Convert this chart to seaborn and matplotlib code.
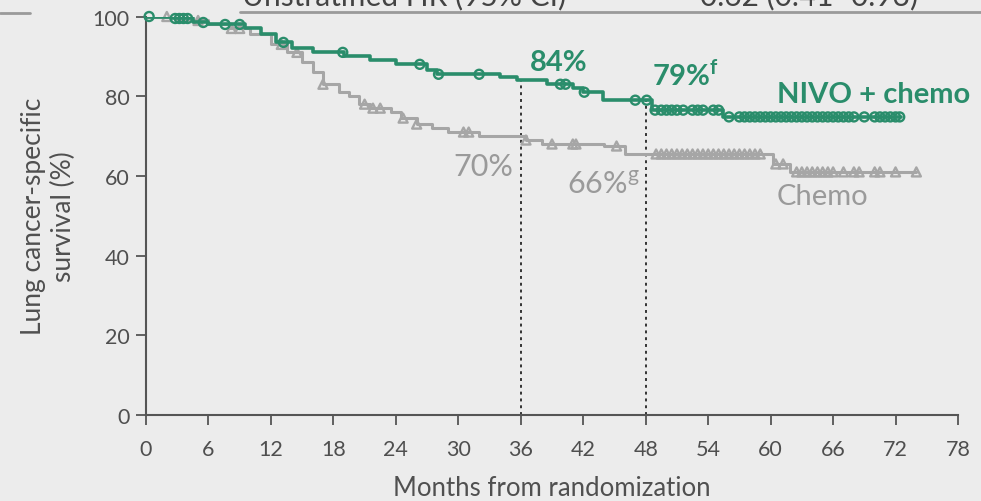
import numpy as np
import pandas as pd
import matplotlib
matplotlib.use("Agg")
import matplotlib.pyplot as plt
import seaborn as sns

# ---- data ----
nivo_times = [0, 2.5, 4.5, 6, 9.5, 11, 12.5, 14, 16, 19, 21.5, 24, 27, 28, 34, 35.6,
              38.5, 41, 42, 43.9, 48.6, 55.4, 72.5]
nivo_surv = [100, 99.5, 98.5, 98, 97, 95.5, 93.5, 92, 91, 90, 89, 88, 86.5, 85.5, 84.8, 84,
             83, 82, 81, 79, 76.5, 74.8, 74.8]
nivo_censor = [0.3, 2.8, 3.2, 3.6, 4.0, 5.5, 7.6, 9.0, 13.2, 18.9, 26.3, 28.1, 32, 39.8, 40.3,
               42.1, 47, 48.1, 48.9, 49.5, 50, 50.5, 51, 51.6, 52.5, 53, 53.5, 54.5, 55, 56,
               57, 57.5, 58, 58.5, 59, 59.5, 60, 60.5, 61, 61.5, 62, 62.5, 63, 63.5, 64,
               64.5, 65, 65.5, 66, 66.5, 67, 67.5, 68, 69, 70, 70.5, 71, 71.5, 72, 72.4]

chemo_times = [0, 3, 6, 8, 10, 12, 13.5, 15, 16, 17, 18.5, 19.5, 20.5, 21.5, 23.5, 24.5, 26,
               27.5, 29, 32, 36.5, 38, 44, 46, 60.2, 61.9, 74]
chemo_surv = [100, 99, 98, 97, 95.5, 93, 91, 88.5, 86, 83, 81, 80, 78, 77, 76, 74.5, 73,
              72, 71, 70, 69, 68, 67.5, 65.5, 63, 61, 61]
chemo_censor = [2, 5, 8.2, 9, 13, 14.5, 17, 21, 21.8, 22.5, 24.7, 26, 30.5, 31, 36.5, 39, 41,
                41.3, 45.2, 49, 49.5, 50, 50.5, 51, 51.5, 52, 52.5, 53, 53.5, 54, 54.5, 55,
                55.5, 56, 56.5, 57, 57.5, 58, 58.5, 59, 60.5, 61.2, 62.5, 63, 63.5, 64, 64.5,
                65, 65.5, 66, 67, 68, 68.5, 70, 70.5, 72, 74]

x_ticks = [0, 6, 12, 18, 24, 30, 36, 42, 48, 54, 60, 66, 72, 78]
y_ticks = [0, 20, 40, 60, 80, 100]
landmarks = [36, 48]
nivo_landmark_labels = ["84%", "79%$^{\\mathregular{f}}$"]
chemo_landmark_labels = ["70%", "66%$^{\\mathregular{g}}$"]

GREEN = "#2a8d6b"
GRAY_LINE = "#a6a6a6"
GRAY_TEXT = "#9a9a9a"
BG = "#ececec"
AXC = "#555555"

sns.set_theme(style="white")
plt.rcParams["font.family"] = ["Lato", "DejaVu Sans"]

fig = plt.figure(figsize=(9.81, 5.02), dpi=100, facecolor=BG)
ax = fig.add_axes([146 / 981, 86 / 502, (958 - 146) / 981, (416 - 17.5) / 502])
ax.set_facecolor(BG)


def step_value(times, surv, t):
    idx = np.searchsorted(times, t, side="right") - 1
    return np.asarray(surv)[idx]


curves = pd.concat([
    pd.DataFrame({"t": nivo_times, "s": nivo_surv, "arm": "NIVO"}),
    pd.DataFrame({"t": chemo_times, "s": chemo_surv, "arm": "Chemo"}),
])
palette = {"NIVO": GREEN, "Chemo": GRAY_LINE}

for arm, times, surv, cens, mk in [("Chemo", chemo_times, chemo_surv, chemo_censor, "^"),
                                     ("NIVO", nivo_times, nivo_surv, nivo_censor, "o")]:
    d = curves[curves["arm"] == arm]
    sns.lineplot(data=d, x="t", y="s", ax=ax, color=palette[arm],
                 lw=2.6 if arm == "NIVO" else 2.2,
                 drawstyle="steps-post", legend=False, zorder=3 if arm == "NIVO" else 2)
    cd = pd.DataFrame({"t": cens, "s": step_value(np.array(times), surv, np.array(cens))})
    sns.scatterplot(data=cd, x="t", y="s", ax=ax, marker=mk, s=42,
                    facecolor="none", edgecolor=palette[arm], linewidth=1.7,
                    legend=False, zorder=4 if arm == "NIVO" else 2, clip_on=False)

# landmark dotted lines
for lm in landmarks:
    top = step_value(np.array(nivo_times), nivo_surv, lm)
    ax.plot([lm, lm], [0, top], ls=(0, (1.5, 2)), color="#333333", lw=1.4, zorder=1)

ax.set_xlim(0, 78)
ax.set_ylim(0, 100)
ax.set_xticks(x_ticks)
ax.set_yticks(y_ticks)
ax.tick_params(axis="both", direction="out", length=7, width=1.3, color=AXC,
               labelsize=15.5, labelcolor="#4f4f4f", left=True, bottom=True)
ax.tick_params(axis="x", pad=10)
ax.tick_params(axis="y", pad=5)
for side in ["top", "right"]:
    ax.spines[side].set_visible(False)
for side in ["left", "bottom"]:
    ax.spines[side].set_color(AXC)
    ax.spines[side].set_linewidth(1.5)

ax.set_xlabel("Months from randomization", fontsize=18.5, color="#505050", labelpad=12)
ax.set_ylabel("Lung cancer-specific\nsurvival (%)", fontsize=19, color="#505050",
              labelpad=12, linespacing=1.2)

# annotations
ax.text(36.9, 88.5, nivo_landmark_labels[0], color=GREEN, fontsize=21, fontweight="bold",
        ha="left", va="center")
ax.text(48.6, 85.5, nivo_landmark_labels[1], color=GREEN, fontsize=21, fontweight="bold",
        ha="left", va="center")
ax.text(35.3, 62.5, chemo_landmark_labels[0], color=GRAY_TEXT, fontsize=22,
        ha="right", va="center")
ax.text(47.4, 58.0, chemo_landmark_labels[1], color=GRAY_TEXT, fontsize=22,
        ha="right", va="center")
ax.text(60.6, 80.5, "NIVO + chemo", color=GREEN, fontsize=21, fontweight="bold",
        ha="left", va="center")
ax.text(60.6, 55.0, "Chemo", color=GRAY_TEXT, fontsize=21, ha="left", va="center")

# cropped header from the original slide
fig.text(242 / 981, 1 - 5 / 502, "Unstratified HR (95% CI)", fontsize=21.5, color="#444444",
         ha="left", va="baseline")
fig.text(700 / 981, 1 - 5 / 502, "0.62 (0.41\u20130.93)", fontsize=21.5, color="#444444",
         ha="left", va="baseline")
fig.add_artist(plt.Line2D([240 / 981, 1.0], [1 - 13 / 502] * 2, color="#9a9a9a", lw=2))
fig.add_artist(plt.Line2D([0, 30 / 981], [1 - 14 / 502] * 2, color="#9a9a9a", lw=2))

fig.savefig("out.png", dpi=100, facecolor=BG)
